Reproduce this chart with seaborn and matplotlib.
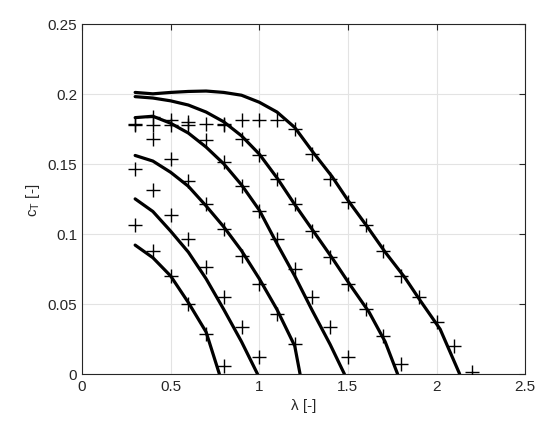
import numpy as np
import pandas as pd
import matplotlib
matplotlib.use("Agg")
import matplotlib.pyplot as plt
import seaborn as sns

# curvas modeladas (lambda, cT), de abajo hacia arriba
c1_x = [0.3, 0.4, 0.5, 0.6, 0.7, 0.775]
c1_y = [0.092, 0.083, 0.070, 0.051, 0.030, 0.0]
c2_x = [0.3, 0.4, 0.5, 0.6, 0.7, 0.8, 0.9, 0.99]
c2_y = [0.125, 0.116, 0.102, 0.087, 0.068, 0.046, 0.023, 0.0]
c3_x = [0.3, 0.4, 0.5, 0.6, 0.7, 0.8, 0.9, 1.0, 1.1, 1.2, 1.23]
c3_y = [0.156, 0.152, 0.144, 0.134, 0.120, 0.105, 0.088, 0.068, 0.046, 0.020, 0.0]
c4_x = [0.3, 0.4, 0.5, 0.6, 0.7, 0.8, 0.9, 1.0, 1.1, 1.2, 1.3, 1.4, 1.48]
c4_y = [0.183, 0.184, 0.179, 0.172, 0.162, 0.150, 0.135, 0.117, 0.093, 0.070, 0.045, 0.021, 0.0]
c5_x = [0.3, 0.4, 0.5, 0.6, 0.7, 0.8, 0.9, 1.0, 1.1, 1.2, 1.305, 1.41, 1.51, 1.62, 1.71, 1.78]
c5_y = [0.198, 0.197, 0.195, 0.192, 0.187, 0.180, 0.170, 0.157, 0.140, 0.121, 0.102, 0.083, 0.064, 0.044, 0.023, 0.0]
c6_x = [0.3, 0.4, 0.5, 0.6, 0.7, 0.8, 0.9, 1.0, 1.1, 1.2, 1.305, 1.41, 1.5, 1.61, 1.71, 1.82, 1.91, 2.02, 2.13]
c6_y = [0.201, 0.200, 0.201, 0.2017, 0.202, 0.201, 0.199, 0.194, 0.187, 0.176, 0.158, 0.141, 0.124, 0.105, 0.087, 0.069, 0.052, 0.032, 0.0]

# medidas experimentales (+)
med_x = [0.3]*4 + [0.4]*5 + [0.5]*5 + [0.6]*5 + [0.7]*5 + [0.8]*6 + [0.9]*5 + [1.0]*5 + \
        [1.1]*4 + [1.2]*4 + [1.3]*3 + [1.4]*3 + [1.5]*3 + [1.6]*2 + [1.7]*2 + [1.8]*2 + \
        [1.9, 2.0, 2.1, 2.2]
med_y = [0.1786, 0.1774, 0.1464, 0.1060,
         0.1833, 0.1774, 0.1679, 0.1310, 0.0881,
         0.1810, 0.1774, 0.1536, 0.1136, 0.0702,
         0.1798, 0.1774, 0.1381, 0.0964, 0.0500,
         0.1786, 0.1667, 0.1214, 0.0762, 0.0286,
         0.1786, 0.1774, 0.1512, 0.1036, 0.0548, 0.0060,
         0.1810, 0.1679, 0.1345, 0.0845, 0.0333,
         0.1810, 0.1560, 0.1167, 0.0643, 0.0119,
         0.1810, 0.1393, 0.0964, 0.0429,
         0.1750, 0.1214, 0.0750, 0.0214,
         0.1571, 0.1024, 0.0548,
         0.1393, 0.0833, 0.0333,
         0.1226, 0.0643, 0.0119,
         0.1060, 0.0464,
         0.0881, 0.0274,
         0.0702, 0.0071,
         0.0548, 0.0369, 0.0202, 0.0012]

curvas = [(c1_x, c1_y), (c2_x, c2_y), (c3_x, c3_y), (c4_x, c4_y), (c5_x, c5_y), (c6_x, c6_y)]
df = pd.concat([pd.DataFrame({"lam": x, "ct": y, "curva": i}) for i, (x, y) in enumerate(curvas)])
med = pd.DataFrame({"lam": med_x, "ct": med_y})

sns.set_style("whitegrid")
plt.rcParams["font.family"] = ["Liberation Sans", "DejaVu Sans"]

fig = plt.figure(figsize=(5.5, 4.35), dpi=100)
ax = fig.add_axes([0.149, 0.138, 0.806, 0.805])

sns.lineplot(data=df, x="lam", y="ct", units="curva", estimator=None, sort=False,
             color="black", linewidth=2.3, ax=ax)
sns.scatterplot(data=med, x="lam", y="ct", marker="+", s=90, color="black",
                linewidth=1.0, ax=ax, zorder=3)

ax.set_xlim(0, 2.5)
ax.set_ylim(0, 0.25)
ax.set_xticks([0, 0.5, 1, 1.5, 2, 2.5])
ax.set_xticklabels(["0", "0.5", "1", "1.5", "2", "2.5"])
ax.set_yticks([0, 0.05, 0.1, 0.15, 0.2, 0.25])
ax.set_yticklabels(["0", "0.05", "0.1", "0.15", "0.2", "0.25"])
ax.set_xlabel("λ [-]", fontsize=11, color="#262626")
ax.set_ylabel("c$_\\mathregular{T}$ [-]", fontsize=11, color="#262626")
ax.grid(True, color="#e3e3e3", linewidth=0.8)
for s in ax.spines.values():
    s.set_color("#262626")
    s.set_linewidth(0.8)
ax.tick_params(direction="in", length=4, colors="#262626", labelsize=11,
               top=True, right=True, labelcolor="#262626")

fig.savefig("out.png", dpi=100)
